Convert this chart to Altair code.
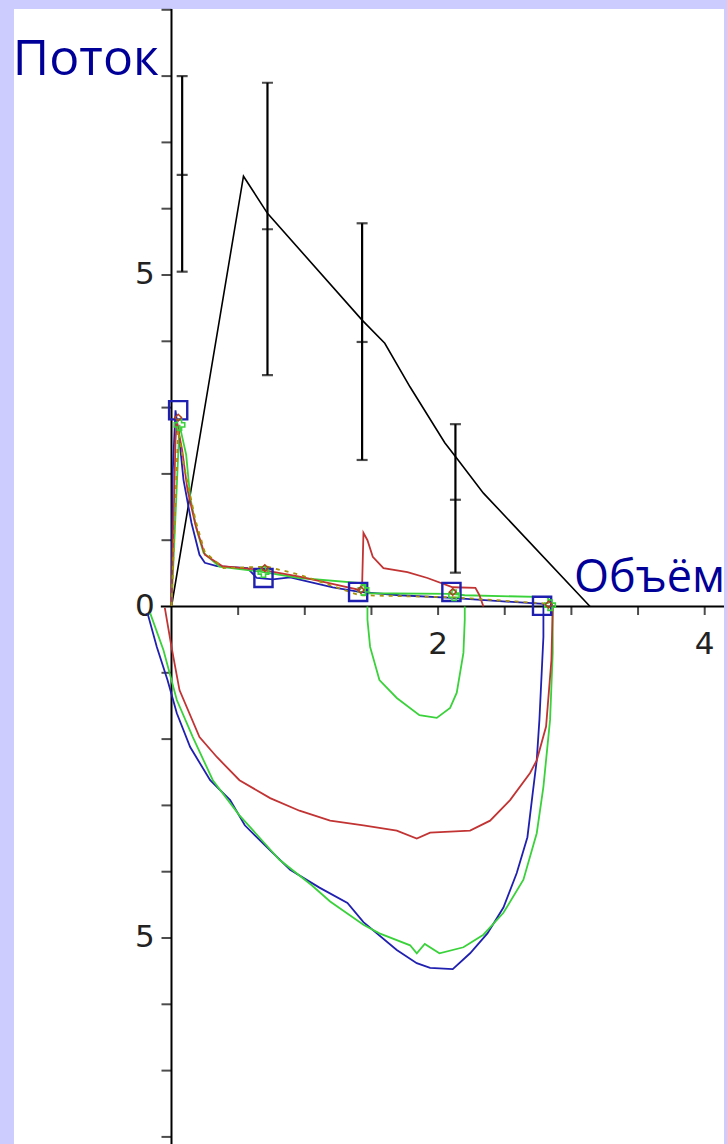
import altair as alt
import pandas as pd

# ---------------- data ----------------
# Mean expiratory curve with spread bars
MEAN_X = [0.00, 0.54, 0.72, 1.43, 1.60, 1.79, 2.05, 2.15, 2.34, 3.14]
MEAN_Y = [0.00, 6.49, 5.93, 4.32, 3.97, 3.31, 2.47, 2.21, 1.71, 0.00]

BAR_X = [0.08, 0.72, 1.43, 2.13]
BAR_LOW = [5.05, 3.49, 2.21, 0.51]
BAR_MID = [6.51, 5.69, 3.99, 1.61]
BAR_HIGH = [8.00, 7.90, 5.78, 2.75]

# Blue loop
BLUE_EXP_X = [0.00, 0.01, 0.03, 0.06, 0.09, 0.15, 0.21, 0.25, 0.34, 0.57, 0.64, 0.76, 0.89,
              1.21, 1.41, 1.71, 2.10, 2.46, 2.79, 2.79]
BLUE_EXP_Y = [0.01, 2.06, 2.96, 2.51, 1.91, 1.26, 0.78, 0.66, 0.61, 0.58, 0.43, 0.41, 0.44,
              0.29, 0.22, 0.17, 0.13, 0.08, 0.04, 0.00]
BLUE_INS_X = [-0.18, -0.11, -0.03, 0.04, 0.14, 0.29, 0.44, 0.55, 0.70, 0.89, 1.11, 1.32, 1.44,
              1.69, 1.84, 1.94, 2.11, 2.24, 2.37, 2.49, 2.59, 2.67, 2.71, 2.74, 2.76, 2.79, 2.79]
BLUE_INS_Y = [-0.10, -0.61, -1.11, -1.61, -2.12, -2.62, -2.92, -3.30, -3.60, -3.97, -4.24, -4.47,
              -4.76, -5.18, -5.38, -5.45, -5.47, -5.23, -4.93, -4.54, -4.02, -3.48, -2.81, -2.32,
              -1.71, -0.46, 0.00]

# Green loop
GREEN_EXP_X = [0.00, 0.06, 0.11, 0.14, 0.19, 0.24, 0.36, 0.69, 0.96, 1.44, 1.46, 2.10, 2.20, 2.82, 2.86]
GREEN_EXP_Y = [0.01, 2.74, 2.29, 1.65, 1.15, 0.81, 0.60, 0.52, 0.43, 0.35, 0.20, 0.19, 0.17, 0.14, 0.00]
GREEN_SMALL_X = [1.47, 1.47, 1.49, 1.56, 1.69, 1.86, 1.99, 2.09, 2.14, 2.19, 2.20, 2.20]
GREEN_SMALL_Y = [0.00, -0.20, -0.61, -1.11, -1.38, -1.64, -1.68, -1.53, -1.30, -0.70, -0.20, 0.00]
GREEN_INS_X = [-0.16, -0.06, 0.04, 0.16, 0.31, 0.51, 0.81, 1.05, 1.19, 1.44, 1.56, 1.79, 1.84,
               1.90, 2.01, 2.19, 2.34, 2.49, 2.64, 2.74, 2.79, 2.84, 2.86, 2.86]
GREEN_INS_Y = [-0.10, -0.66, -1.41, -1.97, -2.62, -3.15, -3.82, -4.20, -4.45, -4.80, -4.93, -5.11,
               -5.23, -5.09, -5.23, -5.14, -4.95, -4.62, -4.12, -3.42, -2.72, -1.71, -0.70, 0.00]

# Red loop
RED_EXP_X = [0.00, 0.03, 0.04, 0.08, 0.12, 0.18, 0.25, 0.38, 0.69, 0.96, 1.19, 1.41, 1.43, 1.44,
             1.47, 1.51, 1.59, 1.77, 1.92, 2.11, 2.28, 2.31, 2.34]
RED_EXP_Y = [0.01, 2.51, 2.78, 2.36, 1.76, 1.23, 0.78, 0.61, 0.55, 0.45, 0.35, 0.25, 0.32, 1.11,
             1.00, 0.75, 0.58, 0.52, 0.43, 0.29, 0.28, 0.17, 0.00]
RED_INS_X = [-0.05, 0.00, 0.06, 0.21, 0.34, 0.51, 0.74, 0.96, 1.19, 1.44, 1.69, 1.84, 1.94, 2.24,
             2.39, 2.54, 2.69, 2.74, 2.81, 2.85, 2.86]
RED_INS_Y = [-0.02, -0.61, -1.26, -1.97, -2.27, -2.62, -2.89, -3.08, -3.23, -3.30, -3.38, -3.50,
             -3.41, -3.38, -3.23, -2.92, -2.51, -2.32, -1.81, -0.81, 0.00]

# Olive dashed expiratory trace
OLIVE_X = [0.00, 0.05, 0.10, 0.18, 0.25, 0.39, 0.72, 0.96, 1.41, 2.10, 2.84]
OLIVE_Y = [0.01, 2.66, 2.06, 1.30, 0.82, 0.58, 0.60, 0.48, 0.17, 0.14, 0.04]

# Point markers
BLUE_MARK_X = [0.05, 0.69, 1.40, 2.10, 2.78]
BLUE_MARK_Y = [2.96, 0.43, 0.22, 0.22, 0.01]
GREEN_MARK_X = [0.06, 0.69, 1.44, 2.12, 2.84]
GREEN_MARK_Y = [2.74, 0.52, 0.25, 0.17, 0.02]
OLIVE_MARK_X = [0.05, 0.70, 1.42, 2.11, 2.83]
OLIVE_MARK_Y = [2.85, 0.58, 0.25, 0.22, 0.03]

# Axes through the origin
X_DOMAIN = [-1.1815, 4.1448]
Y_DOMAIN = [-8.107, 9.012]
X_AXIS_SPAN = [-0.08, 4.1448]
Y_AXIS_SPAN = [-8.107, 9.012]
X_TICKS = [0.5, 1.0, 1.5, 2.0, 2.5, 3.0, 3.5, 4.0]
Y_TICKS = [-8, -7, -6, -5, -4, -3, -2, -1, 1, 2, 3, 4, 5, 6, 7, 8, 9]
X_LABELS = [2, 4]
X_LABEL_Y = -0.58
Y_LABELS = [5, 0, -5]
Y_LABEL_X = -0.2

TITLE_Y_TEXT = "Поток"
TITLE_Y_POS = (-1.19, 8.02)
TITLE_X_TEXT = "Объём"
TITLE_X_POS = (3.02, 0.22)

# ---------------- build tables ----------------
def seg(name, series, xs, ys):
    return pd.DataFrame({"seg": name, "series": series, "i": range(len(xs)), "x": xs, "y": ys})

curves = pd.concat([
    seg("be", "blue", BLUE_EXP_X, BLUE_EXP_Y),
    seg("bi", "blue", BLUE_INS_X, BLUE_INS_Y),
    seg("ge", "green", GREEN_EXP_X, GREEN_EXP_Y),
    seg("gs", "green", GREEN_SMALL_X, GREEN_SMALL_Y),
    seg("gi", "green", GREEN_INS_X, GREEN_INS_Y),
    seg("re", "red", RED_EXP_X, RED_EXP_Y),
    seg("ri", "red", RED_INS_X, RED_INS_Y),
], ignore_index=True)

olive = seg("ol", "olive", OLIVE_X, OLIVE_Y)
mean = seg("m", "black", MEAN_X, MEAN_Y)
bars = pd.DataFrame({"x": BAR_X, "lo": BAR_LOW, "mid": BAR_MID, "hi": BAR_HIGH})
caps = pd.concat([
    pd.DataFrame({"x": BAR_X, "y": BAR_LOW}),
    pd.DataFrame({"x": BAR_X, "y": BAR_MID}),
    pd.DataFrame({"x": BAR_X, "y": BAR_HIGH}),
], ignore_index=True)

xs = alt.Scale(domain=X_DOMAIN, nice=False, zero=False)
ys = alt.Scale(domain=Y_DOMAIN, nice=False, zero=False)
X = lambda f="x": alt.X(f"{f}:Q", scale=xs, axis=None)
Y = lambda f="y": alt.Y(f"{f}:Q", scale=ys, axis=None)

BLUE, GREEN, RED = "#2020b0", "#3ad23a", "#c23434"
color = alt.Color("series:N", legend=None,
                  scale=alt.Scale(domain=["blue", "green", "red"], range=[BLUE, GREEN, RED]))

# axis lines
x_axis = alt.Chart(pd.DataFrame({"x": [X_AXIS_SPAN[0]], "x2": [X_AXIS_SPAN[1]], "y": [0]})).mark_rule(
    color="black", strokeWidth=2).encode(x=X(), x2="x2:Q", y=Y())
y_axis = alt.Chart(pd.DataFrame({"x": [0], "y": [Y_AXIS_SPAN[0]], "y2": [Y_AXIS_SPAN[1]]})).mark_rule(
    color="black", strokeWidth=2).encode(x=X(), y=Y(), y2="y2:Q")

y_ticks = alt.Chart(pd.DataFrame({"x": 0, "y": Y_TICKS})).mark_tick(
    orient="horizontal", size=10, thickness=2, color="black", xOffset=-5).encode(x=X(), y=Y())
x_ticks = alt.Chart(pd.DataFrame({"x": X_TICKS, "y": 0})).mark_tick(
    orient="vertical", size=9, thickness=2, color="black", yOffset=4).encode(x=X(), y=Y())

num_font = dict(font="DejaVu Sans", fontSize=31, color="#222222")
x_lab = alt.Chart(pd.DataFrame({"x": X_LABELS, "y": X_LABEL_Y, "t": [str(v) for v in X_LABELS]})).mark_text(
    align="center", baseline="middle", **num_font).encode(x=X(), y=Y(), text="t:N")
y_lab = alt.Chart(pd.DataFrame({"x": Y_LABEL_X, "y": Y_LABELS, "t": [str(abs(v)) for v in Y_LABELS]})).mark_text(
    align="center", baseline="middle", **num_font).encode(x=X(), y=Y(), text="t:N")

# mean curve and spread bars
mean_line = alt.Chart(mean).mark_line(color="black", strokeWidth=1.6).encode(x=X(), y=Y(), order="i:Q")
bar_rules = alt.Chart(bars).mark_rule(color="black", strokeWidth=2.2).encode(x=X(), y=Y("lo"), y2="hi:Q")
bar_caps = alt.Chart(caps).mark_tick(orient="horizontal", size=11, thickness=2.2, color="black").encode(
    x=X(), y=Y())

# loops
loops = alt.Chart(curves).mark_line(strokeWidth=1.8).encode(
    x=X(), y=Y(), color=color, detail="seg:N", order="i:Q")
olive_line = alt.Chart(olive).mark_line(color="#a8900a", strokeWidth=1.8, strokeDash=[4, 5]).encode(
    x=X(), y=Y(), order="i:Q")

blue_marks = alt.Chart(pd.DataFrame({"x": BLUE_MARK_X, "y": BLUE_MARK_Y})).mark_point(
    shape="square", filled=False, size=330, strokeWidth=2.4, color=BLUE, opacity=1).encode(x=X(), y=Y())
green_marks = alt.Chart(pd.DataFrame({"x": GREEN_MARK_X, "y": GREEN_MARK_Y})).mark_point(
    shape="cross", filled=False, size=110, strokeWidth=1.6, color=GREEN, opacity=1).encode(x=X(), y=Y())
olive_marks = alt.Chart(pd.DataFrame({"x": OLIVE_MARK_X, "y": OLIVE_MARK_Y})).mark_point(
    shape="diamond", filled=False, size=45, strokeWidth=1.5, color="#b04020", opacity=1).encode(x=X(), y=Y())

# axis titles
t_y = alt.Chart(pd.DataFrame({"x": [TITLE_Y_POS[0]], "y": [TITLE_Y_POS[1]], "t": [TITLE_Y_TEXT]})).mark_text(
    font="Open Sans", fontSize=50, color="#000099", align="left", baseline="alphabetic"
).encode(x=X(), y=Y(), text="t:N")
t_x = alt.Chart(pd.DataFrame({"x": [TITLE_X_POS[0]], "y": [TITLE_X_POS[1]], "t": [TITLE_X_TEXT]})).mark_text(
    font="Open Sans", fontSize=45, color="#000099", align="left", baseline="alphabetic"
).encode(x=X(), y=Y(), text="t:N")

chart = alt.layer(
    x_axis, y_axis, y_ticks, x_ticks, x_lab, y_lab,
    mean_line, bar_rules, bar_caps,
    loops, olive_line, blue_marks, green_marks, olive_marks,
    t_y, t_x,
).properties(
    width=710, height=1135,
    autosize=alt.AutoSizeParams(type="none"),
    padding={"left": 14, "top": 9, "right": 3, "bottom": 0},
    background="#ccccff",
).configure_view(fill="white", strokeWidth=0)

chart.save("out.html", embed_options={"renderer": "svg", "actions": False})
